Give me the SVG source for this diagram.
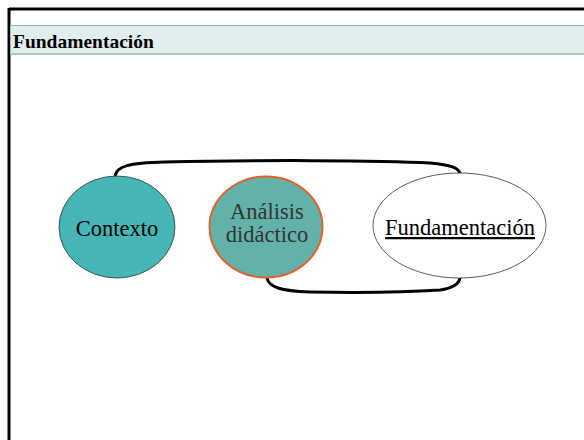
<svg xmlns="http://www.w3.org/2000/svg" width="584" height="440" viewBox="0 0 584 440">
  <style>
    .title { font-family: "Liberation Serif", "Times New Roman", serif; font-weight: bold; font-size: 19.5px; fill: #000; }
    .label { font-family: "Liberation Serif", "Times New Roman", serif; font-size: 22.5px; text-anchor: middle; }
    .link { fill: none; stroke: #000; stroke-width: 3; stroke-linecap: round; }
  </style>
  <rect width="584" height="440" fill="#fff"/>

  <!-- slide frame -->
  <line x1="9" y1="9" x2="584" y2="9" stroke="#000" stroke-width="3"/>
  <line x1="9" y1="8" x2="9" y2="440" stroke="#000" stroke-width="3"/>

  <!-- header band -->
  <g id="header">
    <rect x="10.5" y="25" width="573.5" height="29" fill="#e0eeee"/>
    <line x1="10.5" y1="25.5" x2="584" y2="25.5" stroke="#86b8b8" stroke-width="1"/>
    <line x1="10.5" y1="54" x2="584" y2="54" stroke="#a6cccc" stroke-width="2"/>
    <text class="title" x="13" y="48">Fundamentación</text>
  </g>

  <!-- connectors -->
  <g id="connectors">
    <path class="link" d="M115,176 C117,166 128,163 165,162 C250,160 380,160 430,163 C452,165 458,168 460,173"/>
    <path class="link" d="M267,278 C269,287 280,291 310,292 C360,293 410,292 440,290 C454,288 459,284 460,278"/>
  </g>

  <g id="contexto">
    <ellipse cx="117" cy="227" rx="58" ry="51" fill="#45b5b5" stroke="#2a3a3a" stroke-width="0.8"/>
    <text class="label" x="117" y="236" fill="#000">Contexto</text>
  </g>

  <g id="analisis">
    <ellipse cx="266" cy="227" rx="56.5" ry="50.5" fill="#63b2aa" stroke="#e0622a" stroke-width="2"/>
    <text class="label" x="267" y="219" fill="#333">Análisis</text>
    <text class="label" x="267" y="242" fill="#333">didáctico</text>
  </g>

  <g id="fundamentacion">
    <ellipse cx="459.5" cy="225.5" rx="86.5" ry="52.5" fill="#fff" stroke="#333" stroke-width="0.8"/>
    <text class="label" x="460" y="235" fill="#000" text-decoration="underline">Fundamentación</text>
  </g>
</svg>
